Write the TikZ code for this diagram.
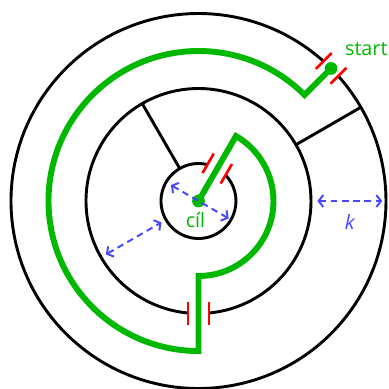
\documentclass[tikz,border=0pt]{standalone}
\usepackage{fontspec}
\setmainfont{Open Sans}
\usepackage{tikz}
\usetikzlibrary{arrows, arrows.meta, calc}
\definecolor{RouteGreen}{HTML}{00B800}
\definecolor{MeasureBlue}{HTML}{4848FF}
\definecolor{GapRed}{HTML}{FF0000}

\begin{document}
\begin{tikzpicture}[line width=2.2pt, >={Straight Barb[length=3.5pt,width=9pt]},
    route/.style={RouteGreen, line width=4.5pt},
    gaptick/.style={GapRed, line width=2pt},
    measure/.style={<->, MeasureBlue, line width=1.5pt, dash pattern=on 5pt off 3.5pt},
    lbl/.style={inner sep=0pt, font=\fontsize{15}{18}\selectfont}]
    \useasboundingbox (-5.293,-5.013) rectangle (5.08,5.36);

    % Walls: three rings, each with one opening
    \draw (48.2:5) arc (48.2:401.8:5);
    \draw (275.36:3) arc (275.36:624.64:3);
    \draw (76.3:1) arc (76.3:403.7:1);
    \draw (30:3) -- (30:5);
    \draw (120:1) -- (120:3);

    % Red marks on both sides of each opening
    \foreach \a/\r in {45/5, 270/3, 60/1}
        \foreach \s in {1,-1}
            \draw [gaptick] ($(\a:\r)+(\a+90:\s*0.28)+(\a:-0.3)$) -- ++(\a:0.6);

    % Green route from start to goal
    \draw [route] (45:5) -- (45:4) arc (45:270:4) -- (270:2) arc (270:420:2) -- (0,0);
    \fill [RouteGreen] (45:5) circle (0.17);
    \fill [RouteGreen] (0,0) circle (0.17);

    % Corridor width k
    \coordinate (kRin) at (0:3.17);
    \coordinate (kRout) at (0:4.9);
    \coordinate (kLin) at (210:1.14);
    \coordinate (kLout) at (210:2.85);
    \coordinate (kCa) at (150:0.85);
    \coordinate (kCb) at (-30:0.93);
    \draw [measure] (kRin) -- (kRout);
    \draw [measure] (kLout) -- (kLin);
    \draw [measure] (kCa) -- (kCb);

    \node [lbl, RouteGreen, anchor=base west] (start) at (3.87,3.87) {start};
    \node [lbl, RouteGreen, anchor=base] (cil) at (-0.08,-0.71) {cíl};
    \node [lbl, MeasureBlue, anchor=base] (k) at (4.04,-0.77) {\textit{k}};
\end{tikzpicture}
\end{document}
